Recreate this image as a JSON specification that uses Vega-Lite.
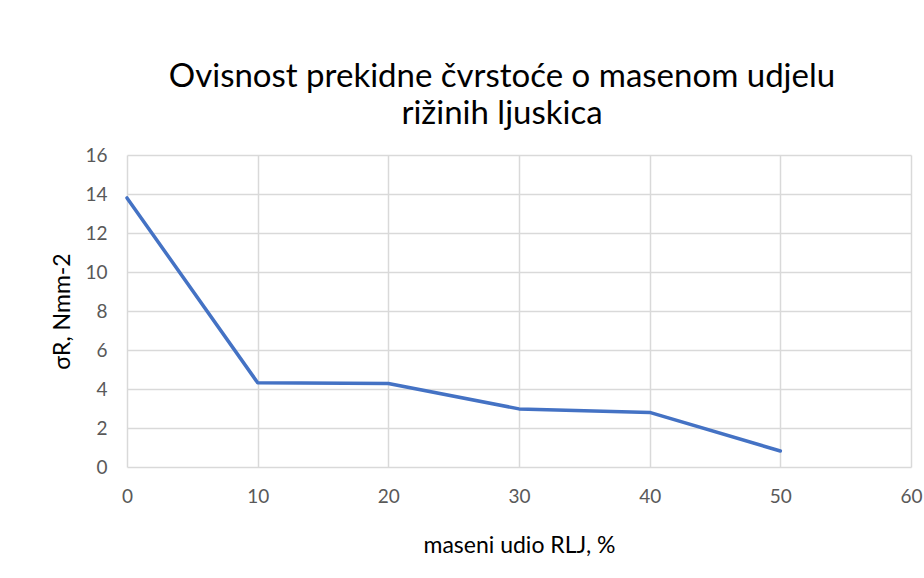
{
  "$schema": "https://vega.github.io/schema/vega-lite/v6.json",
  "autosize": {"type": "none"},
  "width": 784,
  "height": 312,
  "padding": {"left": 127, "top": 155, "right": 13, "bottom": 111},
  "background": "white",
  "title": {
    "text": ["Ovisnost prekidne čvrstoće o masenom udjelu", "rižinih ljuskica"],
    "font": "Lato",
    "fontSize": 33,
    "fontWeight": "normal",
    "color": "#000000",
    "lineHeight": 37,
    "anchor": "middle",
    "dx": -17,
    "offset": 15
  },
  "data": {
    "values": [
      {"udio": 0, "sigma": 13.8},
      {"udio": 10, "sigma": 4.32},
      {"udio": 20, "sigma": 4.28},
      {"udio": 30, "sigma": 2.98},
      {"udio": 40, "sigma": 2.8},
      {"udio": 50, "sigma": 0.82}
    ]
  },
  "mark": {"type": "line", "color": "#4472C4", "strokeWidth": 3.5, "strokeCap": "round", "strokeJoin": "round"},
  "encoding": {
    "x": {
      "field": "udio",
      "type": "quantitative",
      "scale": {"domain": [0, 60], "nice": false},
      "axis": {
        "values": [0, 10, 20, 30, 40, 50, 60],
        "title": "maseni udio RLJ, %",
        "domain": false,
        "ticks": false,
        "labelFlush": false,
        "labelPadding": 20,
        "titlePadding": 28
      }
    },
    "y": {
      "field": "sigma",
      "type": "quantitative",
      "scale": {"domain": [0, 16], "nice": false},
      "axis": {
        "values": [0, 2, 4, 6, 8, 10, 12, 14, 16],
        "title": "σR, Nmm-2",
        "domain": false,
        "ticks": false,
        "labelFlush": false,
        "labelPadding": 20,
        "titlePadding": 10
      }
    }
  },
  "config": {
    "view": {"stroke": null},
    "axis": {
      "labelFont": "Lato",
      "labelFontSize": 19,
      "labelColor": "#595959",
      "titleFont": "Lato",
      "titleFontSize": 23,
      "titleFontWeight": "normal",
      "titleColor": "#000000",
      "gridColor": "#d9d9d9",
      "gridWidth": 1.5,
      "gridOpacity": 1
    }
  }
}
